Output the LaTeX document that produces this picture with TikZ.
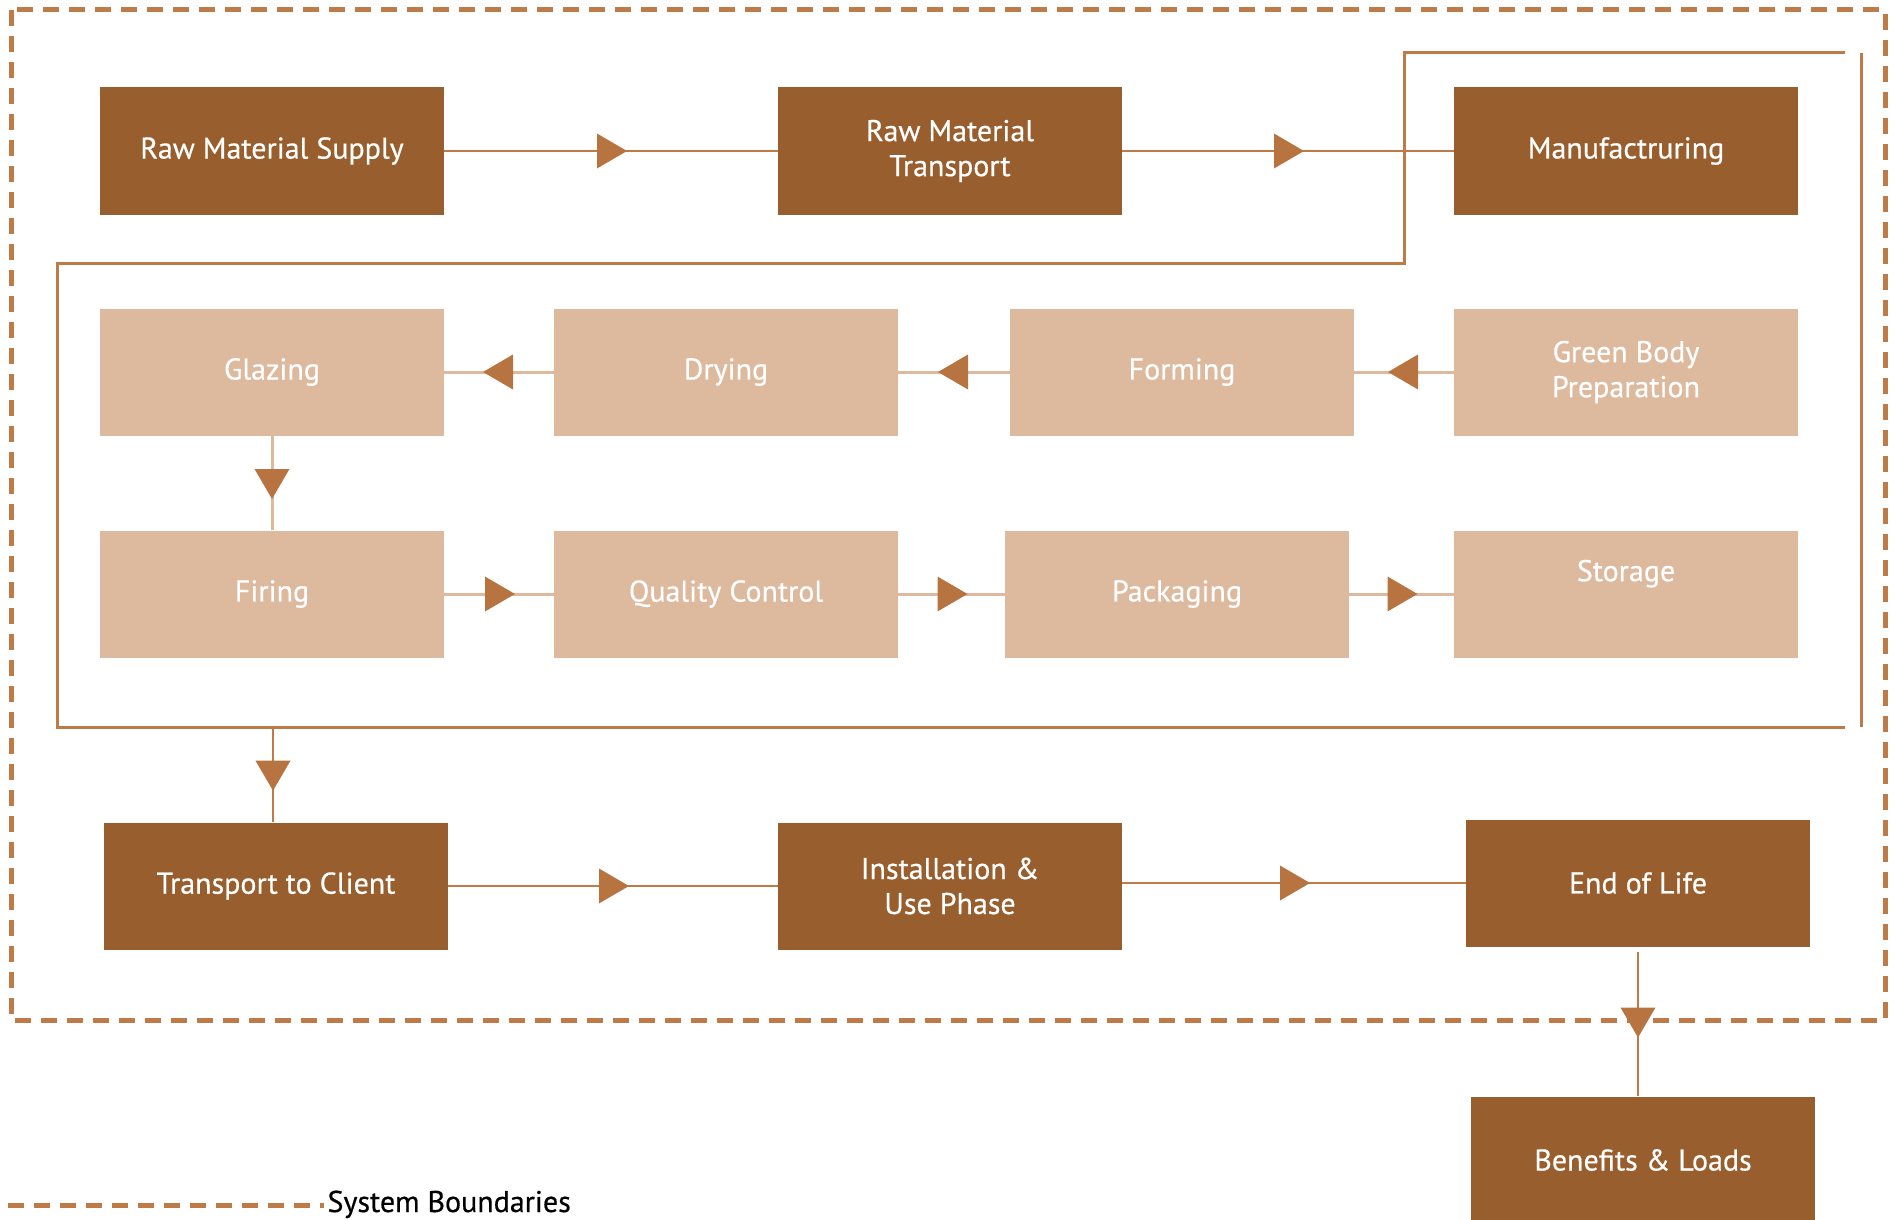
\documentclass[tikz,border=0pt]{standalone}
\usepackage{fontspec}
\setmainfont{PT Sans}[FakeBold=0.5]
\usetikzlibrary{decorations.markings}
\definecolor{clayDark}{HTML}{985E2D}
\definecolor{clayLight}{HTML}{DDB99E}
\definecolor{clayLine}{HTML}{BE7A47}
\definecolor{clayArrow}{HTML}{B87440}
\tikzset{
    stage/.style={rectangle,minimum width=344pt,minimum height=127pt,inner sep=0pt,
        text=white,align=center,font=\fontsize{30}{35}\selectfont},
    mainstage/.style={stage,fill=clayDark},
    substage/.style={stage,fill=clayLight},
    flow/.style={draw=clayLine,line width=2.5pt,postaction={decorate},
        decoration={markings,mark=at position 0.5 with
            {\fill[clayArrow] (-14pt,-17.5pt) -- (16pt,0pt) -- (-14pt,17.5pt) -- cycle;}}},
    subflow/.style={flow,draw=clayLight,line width=3pt},
    bracket/.style={draw=clayLine,line width=3pt},
    boundary/.style={draw=clayLine,line width=5pt,dash pattern=on 16pt off 10pt}
}
\begin{document}
\begin{tikzpicture}[x=1pt,y=-1pt]
                \useasboundingbox (0,0) rectangle (1897,1220);
                \draw[boundary] (11,10) rectangle (1885,1020);
                \draw[bracket] (1845,53) -- (1404,53) -- (1404,263) -- (57,263) -- (57,727) -- (1845,727);
                \draw[bracket] (1861,53) -- (1861,727);
                \coordinate (bracketout) at (273,727);
                \node[mainstage] (supply) at (272,151) {Raw Material Supply};
                \node[mainstage] (rmtrans) at (950,151) {Raw Material\\Transport};
                \node[mainstage] (manuf) at (1626,151) {Manufactruring};
                \node[substage] (glazing) at (272,372) {Glazing};
                \node[substage] (drying) at (726,372) {Drying};
                \node[substage] (forming) at (1182,372) {Forming};
                \node[substage] (greenbody) at (1626,372) {Green Body\\Preparation};
                \node[substage] (firing) at (272,594) {Firing};
                \node[substage] (quality) at (726,594) {Quality Control};
                \node[substage] (packaging) at (1177,594) {Packaging};
                \node[substage] (storage) at (1626,594) {Storage\\[12pt]\mbox{}};
                \node[mainstage] (client) at (276,886) {Transport to Client};
                \node[mainstage] (usephase) at (950,886) {Installation \&\\Use Phase};
                \node[mainstage] (eol) at (1638,883) {End of Life};
                \node[mainstage] (benefits) at (1643,1160) {Benefits \& Loads};
                \draw[flow] (supply) -- (rmtrans);
                \draw[flow] (rmtrans) -- (manuf);
                \draw[subflow] (greenbody) -- (forming);
                \draw[subflow] (forming) -- (drying);
                \draw[subflow] (drying) -- (glazing);
                \draw[subflow] (glazing) -- (firing);
                \draw[subflow] (firing) -- (quality);
                \draw[subflow] (quality) -- (packaging);
                \draw[subflow] (packaging) -- (storage);
                \draw[flow] (bracketout) -- (bracketout |- client.north);
                \draw[flow] (client) -- (usephase);
                \draw[flow] (usephase.east |- eol.west) -- (eol.west);
                \draw[flow,shorten <=5pt] (eol.south) -- (eol.south |- benefits.north);
                \node[anchor=base west,font=\fontsize{30}{35}\selectfont] (legend) at (324,1212) {System Boundaries};
                \coordinate (legstart) at (8,1205);
                \draw[boundary] (legstart) -- (legstart -| legend.west);
            \end{tikzpicture}
\end{document}
